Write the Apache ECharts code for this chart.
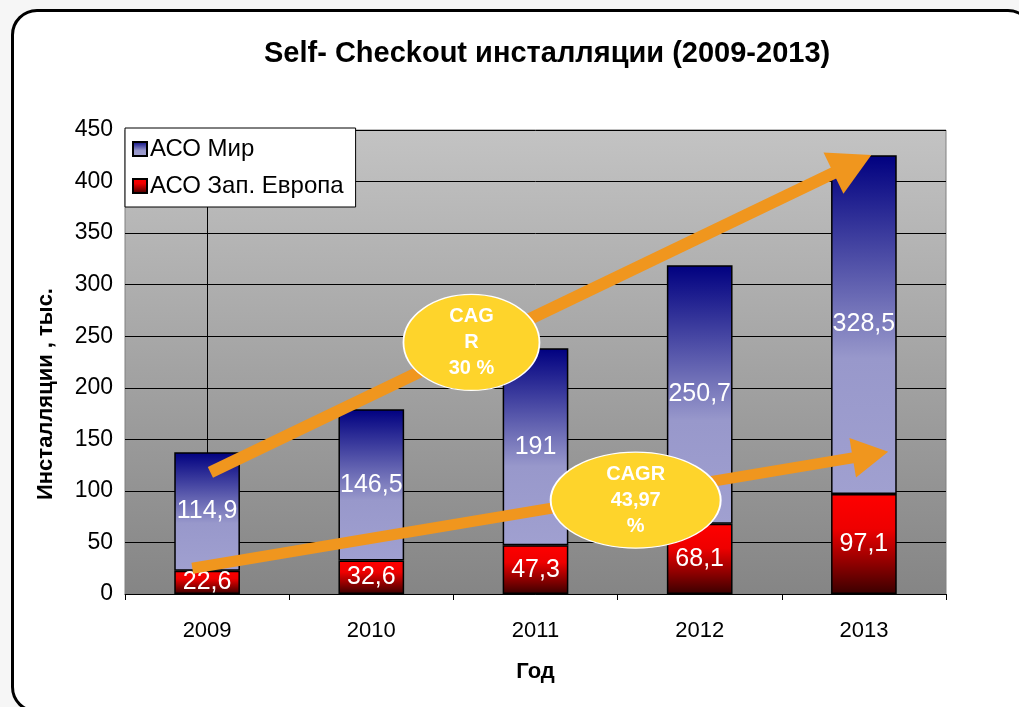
<!DOCTYPE html>
<html>
<head>
<meta charset="utf-8">
<script src="https://cdn.jsdelivr.net/npm/echarts@6/dist/echarts.min.js"></script>
<style>
  html, body { margin: 0; padding: 0; background: #f6f6f6; }
  #card {
    position: absolute; left: 11px; top: 9px; width: 1023px; height: 704px;
    background: #fff; border: 3px solid #000; border-radius: 26px; box-sizing: border-box;
  }
  #chart { position: absolute; left: 0; top: 0; width: 1019px; height: 707px; }
</style>
</head>
<body>
<div id="card"></div>
<div id="chart"></div>
<script>
// data
const years = ["2009", "2010", "2011", "2012", "2013"];
const europe = [22.6, 32.6, 47.3, 68.1, 97.1];
const world = [114.9, 146.5, 191, 250.7, 328.5];
const yTicks = [0, 50, 100, 150, 200, 250, 300, 350, 400, 450];

// CAGR arrows and bubbles, in (category index, value) units
const arrowUpper = [[0.02, 118], [3.93, 417]];
const arrowLower = [[-0.09, 25], [4.04, 135]];
const bubbleUpper = { pos: [1.61, 244], text: "CAG\nR\n30 %" };
const bubbleLower = { pos: [2.61, 91], text: "CAGR\n43,97\n%" };

const font = "'Liberation Sans', Arial, sans-serif";
const fmt = (p) => String(p.value).replace(".", ",");

const chart = echarts.init(document.getElementById("chart"));

const option = {
  animation: false,
  title: {
    text: "Self- Checkout инсталляции (2009-2013)",
    left: 259,
    top: 34,
    textStyle: { fontFamily: font, fontSize: 29, fontWeight: "bold", color: "#000" },
  },
  legend: {
    data: ["АСО Мир", "АСО Зап. Европа"],
    orient: "vertical",
    left: 125,
    top: 128,
    backgroundColor: "#fff",
    borderColor: "#000",
    borderWidth: 1,
    borderRadius: 0,
    padding: [9, 12, 9, 7],
    itemGap: 13,
    itemWidth: 14,
    itemHeight: 14,
    icon: "rect",
    textStyle: { fontFamily: font, fontSize: 24, color: "#000", padding: [0, 0, 0, -2] },
  },
  grid: {
    left: 125,
    right: 73,
    top: 130,
    bottom: 113,
    show: true,
    borderColor: "#808080",
    borderWidth: 1,
    backgroundColor: new echarts.graphic.LinearGradient(0, 0, 0, 1, [
      { offset: 0, color: "#c3c3c3" },
      { offset: 1, color: "#858585" },
    ]),
  },
  xAxis: [
    {
      type: "category",
      data: years,
      name: "Год",
      nameLocation: "middle",
      nameGap: 67,
      nameTextStyle: { fontFamily: font, fontSize: 22, fontWeight: "bold", color: "#000" },
      axisLine: { lineStyle: { color: "#000", width: 1 } },
      axisTick: { show: true, length: 6, lineStyle: { color: "#000" } },
      axisLabel: { fontFamily: font, fontSize: 22, color: "#000", margin: 26 },
    },
    {
      type: "value",
      min: -0.5,
      max: 4.5,
      show: false,
    },
  ],
  yAxis: {
    type: "value",
    min: yTicks[0],
    max: yTicks[yTicks.length - 1],
    interval: 50,
    name: "Инсталляции , тыс.",
    nameLocation: "middle",
    nameGap: 68,
    nameTextStyle: {
      fontFamily: font, fontSize: 22, fontWeight: "bold", color: "#000",
      padding: [0, 64, 0, 0],
    },
    axisLine: { show: true, lineStyle: { color: "#000", width: 1 } },
    axisTick: { show: true, length: 6, lineStyle: { color: "#000" } },
    axisLabel: { fontFamily: font, fontSize: 23, color: "#000", margin: 12 },
    splitLine: { lineStyle: { color: "#000", width: 1 } },
  },
  series: [
    {
      name: "АСО Зап. Европа",
      type: "bar",
      stack: "total",
      barWidth: "40%",
      data: europe,
      itemStyle: {
        borderColor: "#000",
        borderWidth: 1.5,
        color: new echarts.graphic.LinearGradient(0, 0, 0, 1, [
          { offset: 0, color: "#ff0000" },
          { offset: 0.35, color: "#ee0000" },
          { offset: 1, color: "#3a0000" },
        ]),
      },
      label: {
        show: true,
        position: "inside",
        formatter: fmt,
        fontFamily: font,
        fontSize: 25,
        color: "#fff",
      },
    },
    {
      name: "АСО Мир",
      type: "bar",
      stack: "total",
      barWidth: "40%",
      data: world,
      itemStyle: {
        borderColor: "#000",
        borderWidth: 1.5,
        color: new echarts.graphic.LinearGradient(0, 0, 0, 1, [
          { offset: 0, color: "#000080" },
          { offset: 0.6, color: "#9898cb" },
          { offset: 1, color: "#a0a0d0" },
        ]),
      },
      label: {
        show: true,
        position: "inside",
        formatter: fmt,
        fontFamily: font,
        fontSize: 25,
        color: "#fff",
      },
    },
    {
      name: "cagr",
      type: "scatter",
      xAxisIndex: 1,
      yAxisIndex: 0,
      data: [],
      z: 5,
      silent: true,
      markLine: {
        silent: true,
        symbol: ["none", "triangle"],
        label: { show: false },
        lineStyle: { type: "solid", color: "#f0961e", width: 12, opacity: 1 },
        emphasis: { disabled: true },
        data: [
          [
            { coord: arrowUpper[0] },
            { coord: arrowUpper[1], symbolSize: [46, 42] },
          ],
          [
            { coord: arrowLower[0], lineStyle: { width: 11 } },
            { coord: arrowLower[1], symbolSize: [40, 36], lineStyle: { width: 11 } },
          ],
        ],
      },
      markPoint: {
        silent: true,
        symbol: "circle",
        itemStyle: { color: "#fed42b", borderColor: "#fff", borderWidth: 1.5 },
        label: {
          show: true,
          position: "inside",
          fontFamily: font,
          fontSize: 20,
          fontWeight: "bold",
          color: "#fff",
          lineHeight: 26,
        },
        data: [
          { coord: bubbleUpper.pos, symbolSize: [136, 96], value: bubbleUpper.text, label: { formatter: bubbleUpper.text } },
          { coord: bubbleLower.pos, symbolSize: [170, 96], value: bubbleLower.text, label: { formatter: bubbleLower.text } },
        ],
      },
    },
  ],
};

chart.setOption(option);
</script>
</body>
</html>
